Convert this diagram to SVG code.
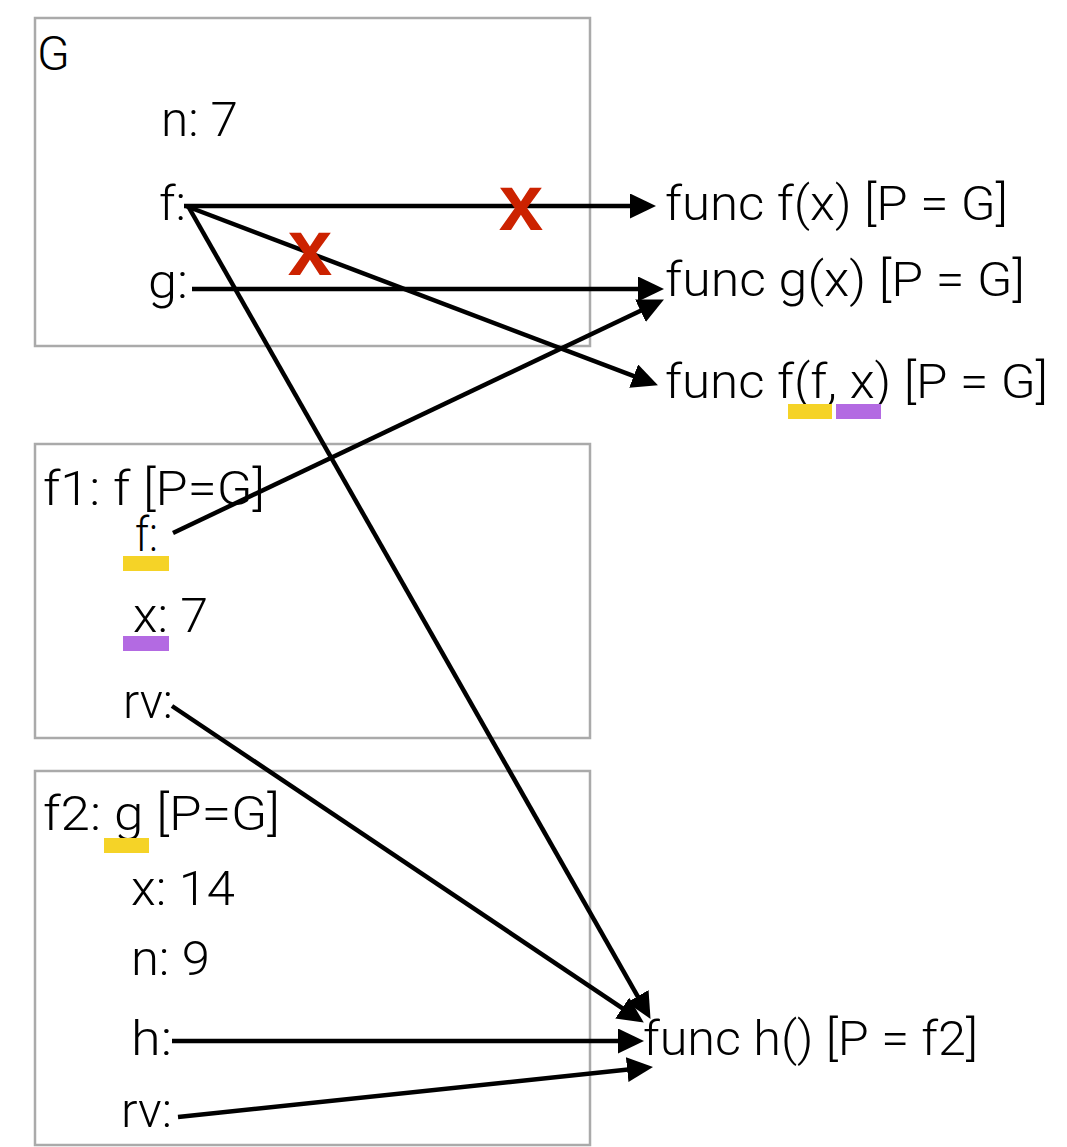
<svg xmlns="http://www.w3.org/2000/svg" width="1067" height="1147" viewBox="0 0 1067 1147">
  <style>
    .frame { fill: none; stroke: #aaaaaa; stroke-width: 2.5; }
    .lbl { font-family: Roboto, "Liberation Sans", sans-serif; font-weight: 300; font-size: 48px; fill: #000; }
    .cross { font-family: "Liberation Sans", Arial, sans-serif; font-weight: bold; font-size: 80px; fill: #cc2200; text-anchor: middle; }
    .edge { stroke: #000; stroke-width: 4.5; fill: none; marker-end: url(#head); }
    .yel { fill: #f5d327; }
    .pur { fill: #b36ae2; }
  </style>
  <defs>
    <marker id="head" markerUnits="userSpaceOnUse" markerWidth="27" markerHeight="26" refX="13" refY="12.5" orient="auto">
      <path d="M0,0 L26,12.5 L0,25 z" fill="#000"/>
    </marker>
  </defs>
  <rect width="1067" height="1147" fill="#fff"/>

  <!-- global frame -->
  <g id="frame-G">
    <rect class="frame" x="35" y="18" width="555" height="328"/>
    <text class="lbl" x="37" y="70">G</text>
    <text class="lbl" x="161" y="136" textLength="77" lengthAdjust="spacingAndGlyphs">n: 7</text>
    <text class="lbl" x="159" y="220" textLength="27" lengthAdjust="spacingAndGlyphs">f:</text>
    <text class="lbl" x="148" y="298" textLength="40" lengthAdjust="spacingAndGlyphs">g:</text>
  </g>

  <!-- function objects -->
  <g id="func-f">
    <text class="lbl" x="665" y="220" textLength="343" lengthAdjust="spacingAndGlyphs">func f(x) [P = G]</text>
  </g>
  <g id="func-g">
    <text class="lbl" x="665" y="296" textLength="360" lengthAdjust="spacingAndGlyphs">func g(x) [P = G]</text>
  </g>
  <g id="func-f2">
    <text class="lbl" x="665" y="398" textLength="383" lengthAdjust="spacingAndGlyphs">func f(f, x) [P = G]</text>
    <rect class="yel" x="788" y="404" width="44" height="15"/>
    <rect class="pur" x="836" y="404" width="45" height="15"/>
  </g>
  <g id="func-h">
    <text class="lbl" x="643" y="1055" textLength="335" lengthAdjust="spacingAndGlyphs">func h() [P = f2]</text>
  </g>

  <!-- frame f1 -->
  <g id="frame-f1">
    <rect class="frame" x="35" y="444" width="555" height="294"/>
    <text class="lbl" x="43" y="505" textLength="222" lengthAdjust="spacingAndGlyphs">f1: f [P=G]</text>
    <text class="lbl" x="135" y="551" textLength="23" lengthAdjust="spacingAndGlyphs">f:</text>
    <rect class="yel" x="123" y="556" width="46" height="15"/>
    <text class="lbl" x="133" y="632" textLength="75" lengthAdjust="spacingAndGlyphs">x: 7</text>
    <rect class="pur" x="123" y="636" width="46" height="15"/>
    <text class="lbl" x="123" y="718" textLength="50" lengthAdjust="spacingAndGlyphs">rv:</text>
  </g>

  <!-- frame f2 -->
  <g id="frame-f2">
    <rect class="frame" x="35" y="771" width="555" height="374"/>
    <text class="lbl" x="43" y="830" textLength="237" lengthAdjust="spacingAndGlyphs">f2: g [P=G]</text>
    <rect class="yel" x="104" y="838" width="45" height="15"/>
    <text class="lbl" x="131" y="905" textLength="104" lengthAdjust="spacingAndGlyphs">x: 14</text>
    <text class="lbl" x="131" y="975" textLength="79" lengthAdjust="spacingAndGlyphs">n: 9</text>
    <text class="lbl" x="131" y="1055" textLength="41" lengthAdjust="spacingAndGlyphs">h:</text>
    <text class="lbl" x="121" y="1127" textLength="51" lengthAdjust="spacingAndGlyphs">rv:</text>
  </g>

  <!-- references -->
  <g id="connectors">
    <line class="edge" x1="184" y1="206" x2="643" y2="206"/>
    <line class="edge" x1="192" y1="289" x2="651" y2="289"/>
    <line class="edge" x1="186" y1="206" x2="645.8" y2="380.7"/>
    <line class="edge" x1="188" y1="206" x2="644.1" y2="1007.6"/>
    <line class="edge" x1="173" y1="533" x2="652.2" y2="305.2"/>
    <line class="edge" x1="172" y1="706" x2="633" y2="1015.3"/>
    <line class="edge" x1="172" y1="1041" x2="631" y2="1041"/>
    <line class="edge" x1="178" y1="1117" x2="640.1" y2="1068.3"/>
  </g>

  <!-- struck-out references -->
  <g id="strikes">
    <text class="cross" x="521" y="230">x</text>
    <text class="cross" x="310" y="275">x</text>
  </g>
</svg>
